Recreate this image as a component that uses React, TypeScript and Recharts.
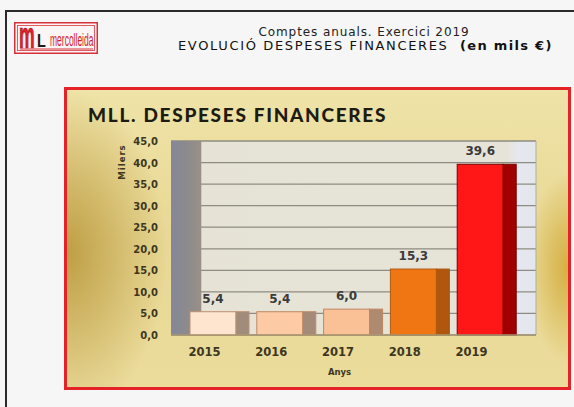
import React from 'react';
import * as Recharts from 'recharts';
import {
  BarChart,
  Bar,
  XAxis,
  YAxis,
  CartesianGrid,
  ReferenceLine,
  LabelList,
  Cell,
} from 'recharts';

const years = ['2015', '2016', '2017', '2018', '2019'];
const values = [5.4, 5.4, 6.0, 15.3, 39.6];
const yTicks = [0, 5, 10, 15, 20, 25, 30, 35, 40, 45];
const frontColors = ['#fde5d0', '#fccaa4', '#fbc196', '#f07614', '#ff1616'];
const sideColors = ['#a08c7c', '#a48a78', '#ad8a70', '#b0560e', '#a00000'];
const edgeColors = ['#c09070', '#c08a64', '#c08660', '#b05a10', '#7a0000'];

const data = years.map((y, i) => ({ year: y, value: values[i], idx: i }));

const fmt = (v: number) => v.toFixed(1).replace('.', ',');

const SIDE = 13;
const usePlotAreaSafe: any = (Recharts as any).usePlotArea;

const Wall = () => {
  const pa = usePlotAreaSafe ? usePlotAreaSafe() : null;
  if (!pa) return null;
  return (
    <g>
      <rect x={pa.x} y={pa.y} width={pa.width * 0.083} height={pa.height} fill="url(#wallGrad)" />
      <line
        x1={pa.x + pa.width}
        x2={pa.x + pa.width}
        y1={pa.y}
        y2={pa.y + pa.height}
        stroke="#b0ad9e"
        strokeWidth={1}
      />
    </g>
  );
};

const Bar3D = (props: any) => {
  const { x, y, width, height, payload } = props;
  const i = payload.idx;
  const fw = width - SIDE;
  return (
    <g>
      <rect x={x} y={y} width={fw} height={height} fill={frontColors[i]} stroke={edgeColors[i]} strokeWidth={1} />
      <rect x={x + fw} y={y} width={SIDE} height={height} fill={sideColors[i]} stroke={edgeColors[i]} strokeWidth={1} />
    </g>
  );
};

const ValueLabel = (props: any) => {
  const { x, y, width, value } = props;
  const cx = x + (width - SIDE) / 2;
  return (
    <text
      x={cx}
      y={y - 9}
      textAnchor="middle"
      fontFamily="DejaVu Sans"
      fontWeight="bold"
      fontSize={12}
      fill="#3a3a3a"
    >
      {fmt(value)}
    </text>
  );
};

const XTick = (props: any) => {
  const { x, y, payload } = props;
  return (
    <text
      x={x - 15}
      y={y + 19}
      textAnchor="middle"
      fontFamily="DejaVu Sans"
      fontWeight="bold"
      fontSize={11.5}
      fill="#3d3620"
    >
      {payload.value}
    </text>
  );
};

const YTick = (props: any) => {
  const { x, y, payload } = props;
  return (
    <text
      x={x}
      y={y + 4}
      textAnchor="end"
      fontFamily="DejaVu Sans"
      fontWeight="bold"
      fontSize={10}
      fill="#3d3620"
    >
      {fmt(payload.value)}
    </text>
  );
};

export default function App() {
  return (
    <div
      style={{
        position: 'absolute',
        left: 0,
        top: 0,
        width: 574,
        height: 407,
        background: '#f6f6f6',
        overflow: 'hidden',
        fontFamily: 'DejaVu Sans, sans-serif',
      }}
    >
      {/* outer frame */}
      <div style={{ position: 'absolute', left: 5, top: 10, width: 600, height: 2, background: '#2a2a2a' }} />
      <div style={{ position: 'absolute', left: 5, top: 10, width: 2, height: 420, background: '#2a2a2a' }} />

      {/* logo */}
      <svg style={{ position: 'absolute', left: 14, top: 12 }} width={84} height={44}>
        <g transform="translate(0 10)">
          <rect x={0.75} y={0.75} width={82.5} height={30.5} fill="#fbf5f5" stroke="#d8303a" strokeWidth={1.5} />
          <rect x={3.5} y={3.5} width={77} height={25} fill="none" stroke="#e25a62" strokeWidth={1} />
          <g transform="translate(5 26) scale(0.68 1.4)">
            <text
              x={0}
              y={0}
              fontFamily="Liberation Sans"
              fontWeight="bold"
              fontSize={26}
              fill="#e3202c"
              stroke="#901018"
              strokeWidth={0.5}
            >
              m
            </text>
          </g>
          <g transform="translate(23 25) scale(0.85 1.1)">
            <text x={0} y={0} fontFamily="Liberation Sans" fontWeight="bold" fontSize={17} fill="#1a1a1a">
              L
            </text>
          </g>
          <g transform="translate(36 24) scale(0.5 1.1)">
            <text x={0} y={0} fontFamily="Liberation Sans" fontSize={17} fill="#cf1f2c">
              mercolleida
            </text>
          </g>
          <line x1={6} x2={79} y1={27} y2={27} stroke="#d8303a" strokeWidth={1} />
        </g>
      </svg>

      {/* header titles */}
      <div
        style={{
          position: 'absolute',
          left: 364 - 150,
          width: 300,
          top: 25,
          textAlign: 'center',
          fontSize: 12,
          color: '#222',
          whiteSpace: 'nowrap',
          letterSpacing: 0.9,
          lineHeight: '14px',
        }}
      >
        Comptes anuals. Exercici 2019
      </div>
      <div
        style={{
          position: 'absolute',
          left: 178,
          top: 38,
          fontSize: 13,
          color: '#111',
          whiteSpace: 'nowrap',
          letterSpacing: 1.65,
          lineHeight: '16px',
        }}
      >
        EVOLUCIÓ DESPESES FINANCERES&nbsp;&nbsp;<b style={{ letterSpacing: 1.3 }}>(en mils €)</b>
      </div>

      {/* red box with gold background */}
      <div
        style={{
          position: 'absolute',
          left: 64,
          top: 87,
          width: 507,
          height: 303,
          boxSizing: 'border-box',
          border: '3px solid #e52228',
          background:
            'radial-gradient(ellipse 20% 55% at 0% 55%, rgba(186,152,60,0.9), rgba(186,152,60,0) 100%),' +
            'radial-gradient(ellipse 8% 32% at 100% 60%, rgba(212,172,60,0.95), rgba(212,172,60,0) 100%),' +
            'linear-gradient(to bottom, #efe3a8 0%, #e8d894 50%, #ebdc9c 100%)',
        }}
      />
      <div
        style={{
          position: 'absolute',
          left: 88,
          top: 103,
          fontSize: 19,
          fontWeight: 900,
          fontFamily: 'Lato',
          color: '#1c1c12',
          whiteSpace: 'nowrap',
          letterSpacing: 1.7,
          lineHeight: '24px',
        }}
      >
        MLL. DESPESES FINANCERES
      </div>

      <div style={{ position: 'absolute', left: 0, top: 0 }}>
        <BarChart
          width={574}
          height={407}
          data={data}
          margin={{ top: 141, right: 38, bottom: 42, left: 111 }}
          barCategoryGap={0}
        >
          <defs>
            <linearGradient id="wallGrad" x1="0" y1="0" x2="1" y2="0">
              <stop offset="0%" stopColor="#85879a" />
              <stop offset="50%" stopColor="#8c8a8c" />
              <stop offset="100%" stopColor="#999088" />
            </linearGradient>
            <linearGradient id="plotGrad" x1="0" y1="0" x2="1" y2="0">
              <stop offset="0%" stopColor="#e6e3d6" />
              <stop offset="92%" stopColor="#e6e3d8" />
              <stop offset="95%" stopColor="#e6e8f0" />
              <stop offset="100%" stopColor="#e4e6ee" />
            </linearGradient>
          </defs>
          <CartesianGrid
            horizontal
            vertical={false}
            stroke="#8e8c82"
            strokeWidth={1.3}
            fill="url(#plotGrad)"
            fillOpacity={1}
          />
          <Wall />
          <ReferenceLine y={0} stroke="#a89870" strokeWidth={1.5} />
          <XAxis
            dataKey="year"
            axisLine={false}
            tickLine={false}
            tickSize={0}
            height={30}
            padding={{ left: 15, right: 16 }}
            tick={<XTick />}
            interval={0}
            label={{
              content: (p: any) => {
                const vb = p.viewBox;
                return (
                  <text
                    x={vb.x + vb.width / 2 - 14}
                    y={vb.y + 40}
                    textAnchor="middle"
                    fontFamily="DejaVu Sans"
                    fontWeight="bold"
                    fontSize={8.5}
                    fill="#3d3620"
                  >
                    Anys
                  </text>
                );
              },
            }}
          />
          <YAxis
            width={60}
            domain={[0, 45]}
            ticks={yTicks}
            interval={0}
            axisLine={false}
            tickLine={false}
            tickSize={0}
            tickMargin={13}
            tick={<YTick />}
            label={{
              content: (p: any) => {
                const vb = p.viewBox;
                const cx = vb.x + 11;
                const cy = vb.y + 21;
                return (
                  <text
                    x={cx}
                    y={cy}
                    transform={`rotate(-90 ${cx} ${cy})`}
                    textAnchor="middle"
                    dominantBaseline="central"
                    fontFamily="DejaVu Sans"
                    fontWeight="bold"
                    fontSize={8.5}
                    letterSpacing={1}
                    fill="#3d3620"
                  >
                    Milers
                  </text>
                );
              },
            }}
          />
          <Bar dataKey="value" barSize={59} shape={<Bar3D />} isAnimationActive={false}>
            {data.map((d, i) => (
              <Cell key={d.year} fill={frontColors[i]} />
            ))}
            <LabelList dataKey="value" content={<ValueLabel />} />
          </Bar>
        </BarChart>
      </div>
    </div>
  );
}
